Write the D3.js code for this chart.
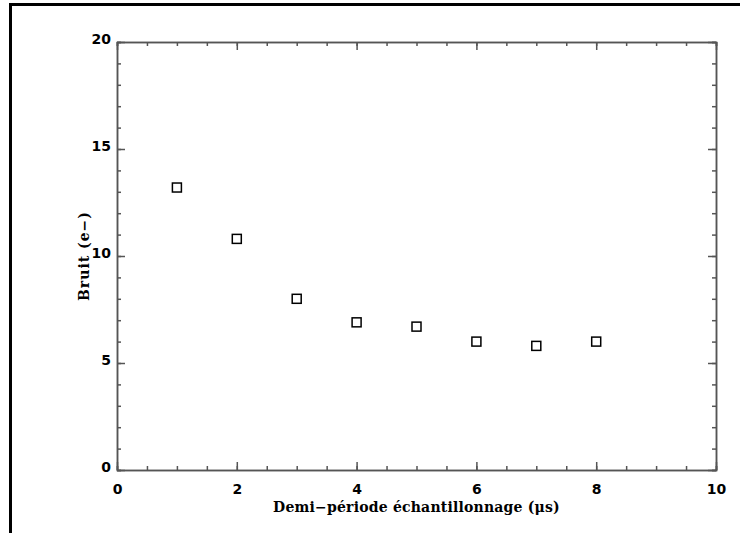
<!DOCTYPE html>
<html>
<head>
<meta charset="utf-8">
<script src="https://cdn.jsdelivr.net/npm/d3@7"></script>
<style>
  body { margin: 0; background: #fff; }
</style>
</head>
<body>
<div id="chart"></div>
<script>
// Data
const periods = [1, 2, 3, 4, 5, 6, 7, 8];
const noise = [13.2, 10.8, 8.0, 6.9, 6.7, 6.0, 5.8, 6.0];
const xTicks = [0, 2, 4, 6, 8, 10];
const yTicks = [0, 5, 10, 15, 20];

const width = 740;
const height = 533;
const marginTop = 42;
const marginRight = 24;
const marginBottom = 63;
const marginLeft = 117;

const x = d3.scaleLinear()
    .domain([0, 10])
    .range([marginLeft, width - marginRight]);

const y = d3.scaleLinear()
    .domain([0, 20])
    .range([height - marginBottom, marginTop]);

const svg = d3.select("#chart")
  .append("svg")
    .attr("width", width)
    .attr("height", height)
    .attr("viewBox", [0, 0, width, height]);

// outer frame (top and left only)
svg.append("line")
    .attr("x1", 9).attr("x2", width).attr("y1", 4.5).attr("y2", 4.5)
    .attr("stroke", "#000").attr("stroke-width", 3);
svg.append("line")
    .attr("x1", 10.5).attr("x2", 10.5).attr("y1", 3).attr("y2", height)
    .attr("stroke", "#000").attr("stroke-width", 3);

const axisColor = "#555";
const xMinor = d3.range(0, 10.01, 0.5);
const yMinor = d3.range(0, 20.01, 1);

function styleAxis(g) {
  g.select(".domain").attr("stroke", axisColor).attr("stroke-width", 1.5);
  g.selectAll(".tick line").attr("stroke", axisColor).attr("stroke-width", 1.5);
}

// bottom axis
svg.append("g")
    .attr("transform", `translate(0,${y(0)})`)
    .call(d3.axisTop(x).tickValues(xMinor).tickSize(4).tickFormat(""))
    .call(styleAxis);
svg.append("g")
    .attr("transform", `translate(0,${y(0)})`)
    .call(d3.axisTop(x).tickValues(xTicks).tickSize(8).tickSizeOuter(0).tickFormat(d3.format("d")))
    .call(styleAxis)
    .call(g => g.selectAll(".tick text")
        .attr("y", 14).attr("dy", "0.71em")
        .attr("font-family", "DejaVu Sans").attr("font-weight", "bold")
        .attr("font-size", 14).attr("fill", "#000"));

// top axis
svg.append("g")
    .attr("transform", `translate(0,${y(20)})`)
    .call(d3.axisBottom(x).tickValues(xMinor).tickSize(4).tickFormat(""))
    .call(styleAxis);
svg.append("g")
    .attr("transform", `translate(0,${y(20)})`)
    .call(d3.axisBottom(x).tickValues(xTicks).tickSize(8).tickSizeOuter(0).tickFormat(""))
    .call(styleAxis);

// left axis
svg.append("g")
    .attr("transform", `translate(${x(0)},0)`)
    .call(d3.axisRight(y).tickValues(yMinor).tickSize(4).tickFormat(""))
    .call(styleAxis);
svg.append("g")
    .attr("transform", `translate(${x(0)},0)`)
    .call(d3.axisRight(y).tickValues(yTicks).tickSize(8).tickSizeOuter(0).tickFormat(d3.format("d")))
    .call(styleAxis)
    .call(g => g.selectAll(".tick text")
        .attr("x", -6).attr("text-anchor", "end").attr("dy", "0.1em")
        .attr("font-family", "DejaVu Sans").attr("font-weight", "bold")
        .attr("font-size", 14).attr("fill", "#000"));

// right axis
svg.append("g")
    .attr("transform", `translate(${x(10)},0)`)
    .call(d3.axisLeft(y).tickValues(yMinor).tickSize(4).tickFormat(""))
    .call(styleAxis);
svg.append("g")
    .attr("transform", `translate(${x(10)},0)`)
    .call(d3.axisLeft(y).tickValues(yTicks).tickSize(8).tickSizeOuter(0).tickFormat(""))
    .call(styleAxis);

// points
const s = 9;
svg.append("g")
  .selectAll("rect")
  .data(periods)
  .join("rect")
    .attr("x", (d) => x(d) - s / 2)
    .attr("y", (d, i) => y(noise[i]) - s / 2)
    .attr("width", s)
    .attr("height", s)
    .attr("fill", "none")
    .attr("stroke", "#000")
    .attr("stroke-width", 1.5);

// axis titles
svg.append("text")
    .attr("x", (x(0) + x(10)) / 2)
    .attr("y", 512)
    .attr("text-anchor", "middle")
    .attr("font-family", "DejaVu Serif")
    .attr("font-weight", "bold")
    .attr("font-size", 14)
    .attr("letter-spacing", 0.2)
    .text("Demi\u2212période échantillonnage (\u03bcs)");

svg.append("text")
    .attr("transform", `translate(89,${(y(0) + y(20)) / 2}) rotate(-90)`)
    .attr("text-anchor", "middle")
    .attr("font-family", "DejaVu Serif")
    .attr("font-weight", "bold")
    .attr("font-size", 14)
    .attr("letter-spacing", 1)
    .text("Bruit (e\u2212)");
</script>
</body>
</html>
